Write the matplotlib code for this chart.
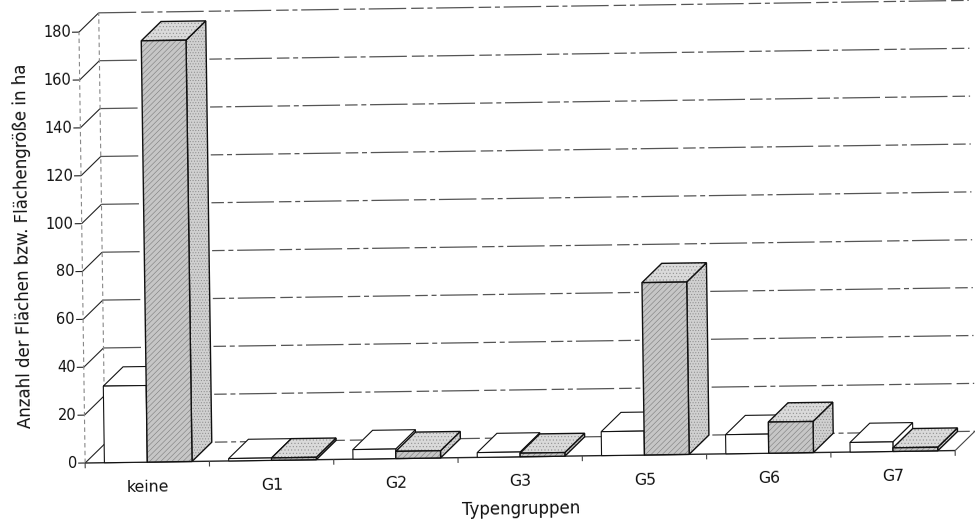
import matplotlib
matplotlib.use("Agg")
import matplotlib.pyplot as plt
from matplotlib.patches import Polygon
from matplotlib.transforms import Affine2D

# --- data -------------------------------------------------------------
categories = ["keine", "G1", "G2", "G3", "G5", "G6", "G7"]
anzahl_flaechen = [32, 1, 4, 2, 10, 8, 4]            # white columns
flaechengroesse_ha = [176, 1, 3, 1.5, 72, 13, 1.5]   # stippled columns
y_ticks = [0, 20, 40, 60, 80, 100, 120, 140, 160, 180]
y_label = "Anzahl der Flächen bzw. Flächengröße in ha"
x_label = "Typengruppen"

# --- figure -----------------------------------------------------------
W, H, DPI = 975, 519, 100
plt.rcParams["font.family"] = ["DejaVu Sans"]
plt.rcParams["hatch.linewidth"] = 0.4

fig = plt.figure(figsize=(W / DPI, H / DPI), dpi=DPI)
fig.patch.set_facecolor("white")
ax = fig.add_axes([0, 0, 1, 1])
ax.set_xlim(-1.185, 6.659)
ax.set_ylim(-23.39, 193.40)
ax.set_autoscale_on(False)
ax.axis("off")

# the whole chart sits slightly tilted on the page
TILT = 0.82
px, py = ax.transData.transform((-0.5, 0))
tilt = ax.transData + Affine2D().rotate_deg_around(px, py, TILT)

# oblique depth of the 3D frame (category units, value units)
DX, DY = 0.161, 7.94
X_LEFT, X_RIGHT = -0.5, 6.5
W_WHITE, W_GREY = 0.345, 0.36
TOP = y_ticks[-1]


def line(xs, ys, **kw):
    ax.plot(xs, ys, transform=tilt, solid_capstyle="butt", **kw)


# back wall grid lines, left wall diagonals and ticks
for v in y_ticks:
    line([X_LEFT + DX, X_RIGHT + DX], [v + DY, v + DY], color="#555555",
         lw=0.9, linestyle=(0, (30, 4, 10, 3, 4, 3)), zorder=1)
    line([X_LEFT, X_LEFT + DX], [v, v + DY], color="#222222", lw=0.8, zorder=1)
    line([X_LEFT - 0.056, X_LEFT], [v, v], color="#222222", lw=0.8, zorder=1)
    ax.text(X_LEFT - 0.065, v, f"{v}", transform=tilt, ha="right", va="center",
            fontsize=10.5, color="#111111", rotation=TILT,
            rotation_mode="anchor")

# wall edges
line([X_LEFT, X_LEFT], [0, TOP], color="#888888", lw=0.8,
     linestyle=(0, (4, 3)), zorder=1)
line([X_LEFT + DX, X_LEFT + DX], [DY, TOP + DY], color="#888888", lw=0.8,
     linestyle=(0, (4, 3)), zorder=1)

# floor
line([X_LEFT, X_RIGHT], [0, 0], color="#222222", lw=1.0, zorder=1)
line([X_RIGHT, X_RIGHT + DX], [0, DY], color="#444444", lw=0.8, zorder=1)
for i in range(len(categories) + 1):
    xt = X_LEFT + i
    line([xt, xt], [0, -2.2], color="#444444", lw=0.8, zorder=1)


def face(pts, fc, hatch, hatch_color, edge_lw, z):
    ax.add_patch(Polygon(pts, closed=True, facecolor=fc, edgecolor=hatch_color,
                         hatch=hatch, lw=0, transform=tilt, zorder=z))
    ax.add_patch(Polygon(pts, closed=True, fill=False, edgecolor="#111111",
                         lw=edge_lw, joinstyle="miter", transform=tilt,
                         zorder=z))


def column(x0, w, h, style, z):
    front = [(x0, 0), (x0 + w, 0), (x0 + w, h), (x0, h)]
    top = [(x0, h), (x0 + DX, h + DY), (x0 + w + DX, h + DY), (x0 + w, h)]
    side = [(x0 + w, 0), (x0 + w + DX, DY), (x0 + w + DX, h + DY), (x0 + w, h)]
    if style == "white":
        for pts in (side, top, front):
            face(pts, "white", None, "white", 0.8, z)
    else:
        face(side, "#d0d0d0", "......", "#8a8a8a", 1.0, z)
        face(top, "#dadada", ".....", "#909090", 1.0, z)
        face(front, "#c6c6c6", "//////", "#7c7c7c", 1.0, z)


for i, (a, f) in enumerate(zip(anzahl_flaechen, flaechengroesse_ha)):
    column(i - W_WHITE, W_WHITE, a, "white", 3 + 2 * i)
    column(i, W_GREY, f, "grey", 4 + 2 * i)
    ax.text(i, -10.4, categories[i], transform=tilt, ha="center", va="center",
            fontsize=11.3, color="#111111", rotation=TILT,
            rotation_mode="anchor")

ax.text((X_LEFT + X_RIGHT) / 2, -21.7, x_label, transform=tilt, ha="center",
        va="center", fontsize=12, color="#111111", rotation=TILT,
        rotation_mode="anchor")
ax.text(-0.975, 91.2, y_label, transform=tilt, ha="center", va="center",
        fontsize=12, color="#111111", rotation=90 + TILT,
        rotation_mode="anchor")

fig.savefig("out.png", dpi=DPI, facecolor="white")
